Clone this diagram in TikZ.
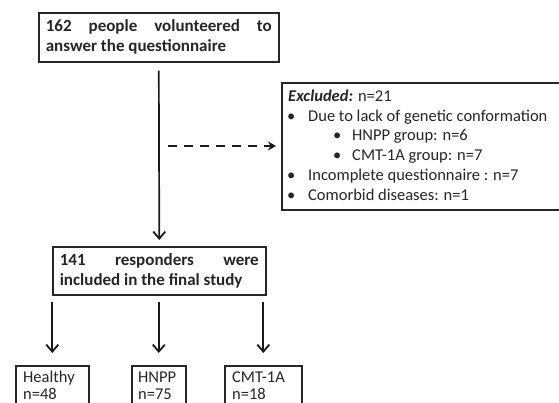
\documentclass[tikz,border=0pt]{standalone}
\usepackage{fontspec}
\setmainfont{Carlito}
\usetikzlibrary{arrows.meta}
\begin{document}
\begin{tikzpicture}[x=1pt,y=-1pt,
  box/.style={draw=black!85, line width=1.6pt, inner xsep=7pt, inner ysep=0pt, anchor=north west},
  plainbox/.style={draw=black!85, line width=1.6pt, anchor=north west, inner sep=0pt},
  arr/.style={draw=black!90, line width=1.7pt, -{Straight Barb[length=7pt,width=12pt,line width=1.8pt]}},
  dasharr/.style={draw=black!90, line width=1.7pt, dash pattern=on 9pt off 7pt, -{Stealth[length=8pt,width=9pt]}},
  txt/.style={font=\fontsize{16.5}{20}\selectfont, text=black!85, inner sep=0pt, anchor=base west},
  btxt/.style={font=\bfseries\fontsize{17}{20}\selectfont, text=black!85}]
\clip (0,0) rectangle (559,403);
\fill[white] (0,0) rectangle (559,403);
% top box
\node[box, btxt, text width=226pt, align=justify, minimum height=49pt] (top) at (38,12)
  {162 people volunteered to\linebreak answer the questionnaire};
% second box
\node[box, btxt, text width=199pt, align=justify, minimum height=48pt] (b2) at (52,246)
  {141 responders were\linebreak included in the final study};
% excluded box
\node[plainbox, minimum width=300pt, minimum height=127pt] (exc) at (281,82) {};
\node[txt] (e0) at (288,101.5) {\textbf{\textit{Excluded:}} n=21};
\node[txt] (e1b) at (287,121.5) {•};
\node[txt] (e1) at (308,121.5) {Due to lack of genetic conformation};
\node[txt] (e2b) at (333,141) {•};
\node[txt] (e2) at (352,141) {HNPP group: n=6};
\node[txt] (e3b) at (333,161) {•};
\node[txt] (e3) at (352,161) {CMT-1A group: n=7};
\node[txt] (e4b) at (287,181) {•};
\node[txt] (e4) at (308,181) {Incomplete questionnaire : n=7};
\node[txt] (e5b) at (287,201) {•};
\node[txt] (e5) at (308,201) {Comorbid diseases: n=1};
% bottom boxes
\node[plainbox, minimum width=73pt, minimum height=60pt] (hl) at (15,365) {};
\node[txt] (hlt) at (23,382) {Healthy};
\node[txt] (hln) at (23,399) {n=48};
\node[plainbox, minimum width=54pt, minimum height=60pt] (hn) at (131,365) {};
\node[txt] (hnt) at (138,382) {HNPP};
\node[txt] (hnn) at (138,399) {n=75};
\node[plainbox, minimum width=77pt, minimum height=60pt] (cm) at (224,365) {};
\node[txt] (cmt) at (232,382) {CMT-1A};
\node[txt] (cmn) at (232,399) {n=18};
% connectors
\draw[arr] ([yshift=-8pt]top.south) -- ([yshift=6pt]b2.north);
\coordinate (ds) at (168,146);
\draw[dasharr, shorten >=5pt] (ds) -- (exc.west |- ds);
\draw[arr] ([yshift=-6pt]b2.south -| hl.north) -- ([yshift=12pt]hl.north);
\draw[arr] ([yshift=-6pt]b2.south -| hn.north) -- ([yshift=12pt]hn.north);
\draw[arr] ([yshift=-6pt]b2.south -| cm.north) -- ([yshift=12pt]cm.north);
\end{tikzpicture}
\end{document}
